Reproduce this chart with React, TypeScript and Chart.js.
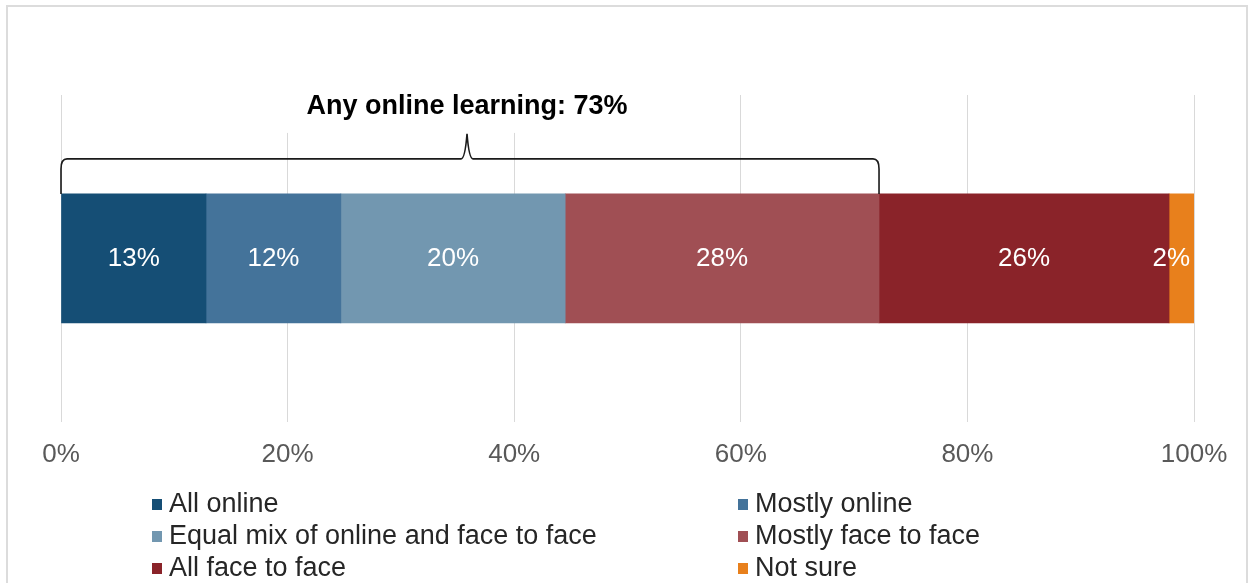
import React, { useEffect, useRef } from "react";
import { Chart, registerables } from "chart.js";

Chart.register(...registerables);

// ---- data ----
const categories = [""];
const seriesNames = [
  "All online",
  "Mostly online",
  "Equal mix of online and face to face",
  "Mostly face to face",
  "All face to face",
  "Not sure",
];
const allOnline = [12.8];
const mostlyOnline = [11.9];
const equalMix = [19.8];
const mostlyFaceToFace = [27.7];
const allFaceToFace = [25.6];
const notSure = [2.2];
const seriesValues = [allOnline, mostlyOnline, equalMix, mostlyFaceToFace, allFaceToFace, notSure];
const seriesColors = ["#154e75", "#44739a", "#7297b0", "#a04f54", "#8a2329", "#e8801c"];
const xTickValues = [0, 20, 40, 60, 80, 100];
const bracketLabel = "Any online learning: 73%";
const bracketSeriesCount = 4;

const FONT = '"Liberation Sans", Arial, sans-serif';

const framePlugin = {
  id: "frame",
  beforeDraw(chart: any) {
    const ctx = chart.ctx;
    ctx.save();
    ctx.fillStyle = "#ffffff";
    ctx.fillRect(0, 0, chart.width, chart.height);
    ctx.strokeStyle = "#dcdcdc";
    ctx.lineWidth = 2;
    ctx.strokeRect(7, 6, chart.width - 9, chart.height + 20);
    ctx.restore();
  },
};

const dataLabelPlugin = {
  id: "dataLabels",
  afterDatasetsDraw(chart: any) {
    const ctx = chart.ctx;
    const area = chart.chartArea;
    ctx.save();
    ctx.font = `26px ${FONT}`;
    ctx.fillStyle = "#ffffff";
    ctx.textAlign = "center";
    ctx.textBaseline = "middle";
    chart.data.datasets.forEach((ds: any, i: number) => {
      const meta = chart.getDatasetMeta(i);
      meta.data.forEach((el: any, j: number) => {
        const v = ds.data[j];
        const text = `${Math.round(v)}%`;
        const w = ctx.measureText(text).width;
        let cx = (el.x + el.base) / 2;
        cx = Math.min(cx, area.right - w / 2 - 4);
        ctx.fillText(text, cx, el.y);
      });
    });
    ctx.restore();
  },
};

const bracketPlugin = {
  id: "bracket",
  afterDraw(chart: any) {
    const ctx = chart.ctx;
    const xs = chart.scales.x;
    const el = chart.getDatasetMeta(0).data[0];
    if (!el) return;
    let sum = 0;
    for (let i = 0; i < bracketSeriesCount; i++) sum += chart.data.datasets[i].data[0];
    const x0 = xs.getPixelForValue(0);
    const x1 = xs.getPixelForValue(sum);
    const barTop = el.y - el.height / 2;
    const braceY = barTop - 35;
    const tipY = braceY - 25;
    const mid = (x0 + x1) / 2 - 3;
    const area = chart.chartArea;

    ctx.save();
    // white mask behind label
    ctx.font = `bold 27px ${FONT}`;
    const tw = ctx.measureText(bracketLabel).width;
    ctx.fillStyle = "#ffffff";
    ctx.fillRect(mid - tw / 2 - 30, area.top - 2, tw + 60, tipY - area.top + 1);

    ctx.fillStyle = "#000000";
    ctx.textAlign = "center";
    ctx.textBaseline = "alphabetic";
    ctx.fillText(bracketLabel, mid, tipY - 20);

    ctx.strokeStyle = "#1a1a1a";
    ctx.lineWidth = 1.6;
    ctx.beginPath();
    ctx.moveTo(x0, barTop);
    ctx.lineTo(x0, braceY + 10);
    ctx.quadraticCurveTo(x0, braceY, x0 + 6, braceY);
    ctx.lineTo(mid - 6, braceY);
    ctx.quadraticCurveTo(mid - 2, braceY, mid, tipY);
    ctx.quadraticCurveTo(mid + 2, braceY, mid + 6, braceY);
    ctx.lineTo(x1 - 6, braceY);
    ctx.quadraticCurveTo(x1, braceY, x1, braceY + 10);
    ctx.lineTo(x1, barTop);
    ctx.stroke();
    ctx.restore();
  },
};

const legendPlugin = {
  id: "customLegend",
  afterDraw(chart: any) {
    const ctx = chart.ctx;
    const colX = [152, 738];
    const rowY = [505, 537, 569];
    ctx.save();
    ctx.font = `27px ${FONT}`;
    ctx.textAlign = "left";
    ctx.textBaseline = "middle";
    chart.data.datasets.forEach((ds: any, i: number) => {
      const col = i % 2;
      const row = Math.floor(i / 2);
      const x = colX[col];
      const y = rowY[row];
      ctx.fillStyle = ds.backgroundColor;
      ctx.fillRect(x, y - 6, 10, 11);
      ctx.fillStyle = "#262626";
      ctx.fillText(ds.label, x + 17, y);
    });
    ctx.restore();
  },
};

export default function App() {
  const canvasRef = useRef<HTMLCanvasElement | null>(null);

  useEffect(() => {
    if (!canvasRef.current) return;
    const chart = new Chart(canvasRef.current, {
      type: "bar",
      data: {
        labels: categories,
        datasets: seriesNames.map((name, i) => ({
          label: name,
          data: seriesValues[i],
          backgroundColor: seriesColors[i],
          borderWidth: 0,
          barThickness: 129,
        })),
      },
      options: {
        indexAxis: "y",
        responsive: false,
        animation: false,
        devicePixelRatio: 1,
        layout: { padding: { left: 61, right: 55, top: 95, bottom: 96 } },
        plugins: {
          legend: { display: false },
          tooltip: { enabled: false },
          title: { display: false },
        },
        scales: {
          x: {
            type: "linear",
            stacked: true,
            min: xTickValues[0],
            max: xTickValues[xTickValues.length - 1],
            afterBuildTicks: (scale: any) => {
              scale.ticks = xTickValues.map((v) => ({ value: v }));
            },
            grid: { color: "#d9d9d9", lineWidth: 1, drawTicks: false },
            border: { display: false },
            ticks: {
              padding: 17,
              color: "#595959",
              font: { family: FONT, size: 26 },
              callback: (v: any) => `${v}%`,
            },
          },
          y: {
            type: "category",
            stacked: true,
            display: false,
          },
        },
      },
      plugins: [framePlugin, dataLabelPlugin, bracketPlugin, legendPlugin],
    } as any);
    return () => chart.destroy();
  }, []);

  return (
    <div style={{ position: "fixed", left: 0, top: 0, width: 1249, height: 583, overflow: "hidden" }}>
      <canvas ref={canvasRef} width={1249} height={583} style={{ display: "block" }} />
    </div>
  );
}
